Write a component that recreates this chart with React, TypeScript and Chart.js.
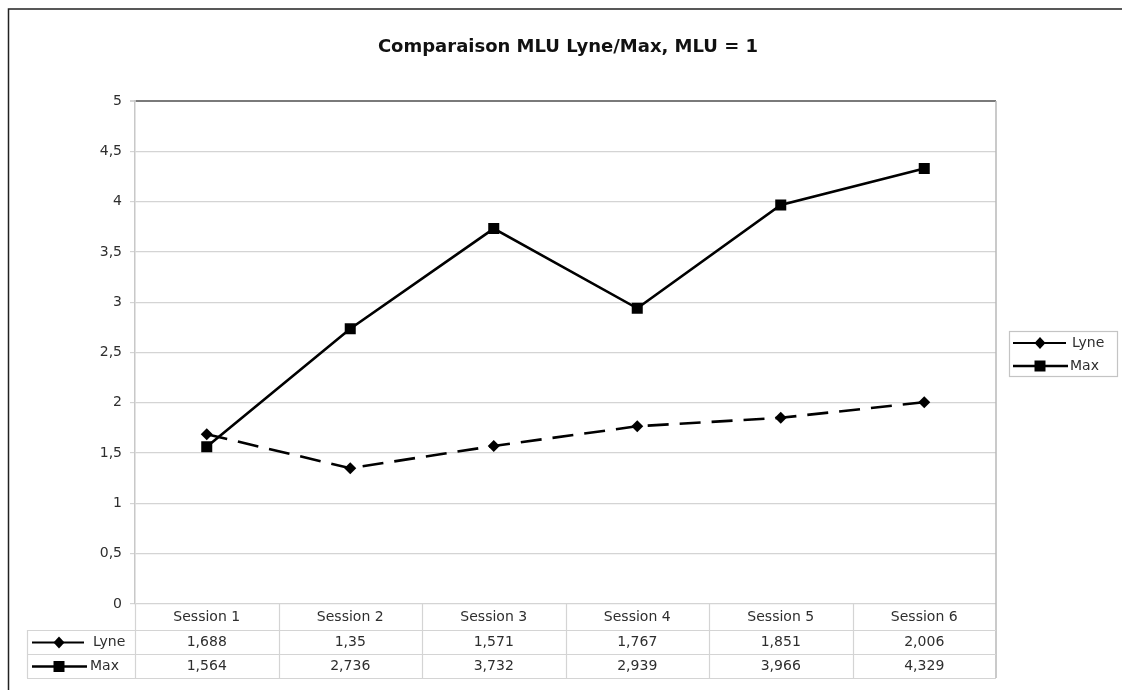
import React, { useEffect, useRef } from "react";
import { Chart, registerables } from "chart.js";

Chart.register(...registerables);

const categories = ["Session 1", "Session 2", "Session 3", "Session 4", "Session 5", "Session 6"];
const lyneValues = [1.688, 1.35, 1.571, 1.767, 1.851, 2.006];
const maxValues = [1.564, 2.736, 3.732, 2.939, 3.966, 4.329];
const seriesNames = ["Lyne", "Max"];
const titleText = "Comparaison MLU Lyne/Max, MLU = 1";

const FONT = "'DejaVu Sans', Verdana, sans-serif";
const TEXT = "#2e2e2e";
const GRID = "#d4d4d4";

const fmt = (v: number) => String(v).replace(".", ",");

function drawMarker(ctx: CanvasRenderingContext2D, kind: string, x: number, y: number) {
  ctx.fillStyle = "#000";
  ctx.beginPath();
  if (kind === "diamond") {
    ctx.moveTo(x - 5.5, y);
    ctx.lineTo(x, y - 6);
    ctx.lineTo(x + 5.5, y);
    ctx.lineTo(x, y + 6);
    ctx.closePath();
  } else {
    ctx.rect(x - 5.5, y - 5.5, 11, 11);
  }
  ctx.fill();
}

const decorPlugin = {
  id: "decor",
  afterDraw(chart: any) {
    const ctx: CanvasRenderingContext2D = chart.ctx;
    const area = chart.chartArea;
    const xs = chart.scales.x;
    ctx.save();

    // outer frame
    ctx.strokeStyle = "#222";
    ctx.lineWidth = 1.5;
    ctx.beginPath();
    ctx.moveTo(8.5, 690);
    ctx.lineTo(8.5, 9);
    ctx.lineTo(1122, 9);
    ctx.stroke();

    // title
    ctx.fillStyle = "#111";
    ctx.font = `bold 18px ${FONT}`;
    ctx.textAlign = "center";
    ctx.textBaseline = "middle";
    ctx.fillText(titleText, 568, 47);

    // plot right border
    ctx.strokeStyle = "#b8b8b8";
    ctx.lineWidth = 1.5;
    ctx.beginPath();
    ctx.moveTo(area.right, area.top);
    ctx.lineTo(area.right, 678);
    ctx.stroke();

    // data table
    const rowTops = [area.bottom, 630, 654, 678];
    const tableLeft = 27;
    ctx.strokeStyle = GRID;
    ctx.lineWidth = 1.2;
    ctx.beginPath();
    for (let r = 1; r < rowTops.length; r++) {
      ctx.moveTo(tableLeft, rowTops[r] + 0.5);
      ctx.lineTo(area.right, rowTops[r] + 0.5);
    }
    ctx.moveTo(tableLeft + 0.5, rowTops[1]);
    ctx.lineTo(tableLeft + 0.5, rowTops[3]);
    const half = (xs.getPixelForValue(1) - xs.getPixelForValue(0)) / 2;
    for (let i = 0; i < categories.length; i++) {
      const bx = Math.round(xs.getPixelForValue(i) - half) + 0.5;
      ctx.moveTo(bx, area.bottom);
      ctx.lineTo(bx, rowTops[3]);
    }
    ctx.stroke();

    const rows = [lyneValues, maxValues];
    ctx.font = `14px ${FONT}`;
    ctx.fillStyle = TEXT;
    ctx.textBaseline = "middle";
    rows.forEach((vals, r) => {
      const cy = (rowTops[r + 1] + rowTops[r + 2]) / 2 + 0.5;
      ctx.textAlign = "center";
      ctx.fillStyle = TEXT;
      vals.forEach((v, i) => {
        ctx.fillText(fmt(v), xs.getPixelForValue(i), cy);
      });
      // key
      ctx.strokeStyle = "#000";
      ctx.lineWidth = r === 0 ? 1.8 : 2.6;
      ctx.setLineDash([]);
      ctx.beginPath();
      ctx.moveTo(32, cy);
      ctx.lineTo(r === 0 ? 84 : 87, cy);
      ctx.stroke();
      drawMarker(ctx, r === 0 ? "diamond" : "square", 59, cy);
      ctx.fillStyle = TEXT;
      ctx.textAlign = "left";
      ctx.fillText(seriesNames[r], r === 0 ? 93 : 90, cy);
    });

    // legend
    ctx.strokeStyle = "#c4c4c4";
    ctx.lineWidth = 1.2;
    ctx.strokeRect(1009.5, 331.5, 108, 45);
    const ly = [343, 366];
    seriesNames.forEach((name, r) => {
      ctx.strokeStyle = "#000";
      ctx.lineWidth = r === 0 ? 1.8 : 2.6;
      ctx.beginPath();
      ctx.moveTo(1013, ly[r]);
      ctx.lineTo(r === 0 ? 1066 : 1068, ly[r]);
      ctx.stroke();
      drawMarker(ctx, r === 0 ? "diamond" : "square", 1040, ly[r]);
      ctx.fillStyle = TEXT;
      ctx.textAlign = "left";
      ctx.font = `14px ${FONT}`;
      ctx.fillText(name, r === 0 ? 1072 : 1070, ly[r] + 0.5);
    });

    ctx.restore();
  },
};

export default function App() {
  const ref = useRef<HTMLCanvasElement | null>(null);

  useEffect(() => {
    if (!ref.current) return;
    const chart = new Chart(ref.current, {
      type: "line",
      data: {
        labels: categories,
        datasets: [
          {
            label: seriesNames[0],
            data: lyneValues,
            borderColor: "#000",
            backgroundColor: "#000",
            borderWidth: 2.6,
            borderDash: [21, 11],
            pointStyle: "rectRot",
            pointRadius: 6,
            pointBorderWidth: 0,
            tension: 0,
          },
          {
            label: seriesNames[1],
            data: maxValues,
            borderColor: "#000",
            backgroundColor: "#000",
            borderWidth: 2.6,
            pointStyle: "rect",
            pointRadius: 7.8,
            pointBorderWidth: 0,
            tension: 0,
          },
        ],
      },
      plugins: [decorPlugin],
      options: {
        responsive: false,
        animation: false,
        devicePixelRatio: 1,
        layout: { padding: { top: 101, right: 126, left: 0, bottom: 0 } },
        plugins: {
          legend: { display: false },
          title: { display: false },
          tooltip: { enabled: false },
        },
        scales: {
          x: {
            offset: true,
            grid: { display: false, drawTicks: false },
            border: { display: false },
            ticks: {
              padding: 5,
              color: TEXT,
              font: { family: FONT, size: 14 },
              maxRotation: 0,
            },
            afterFit: (s: any) => {
              s.height = 86;
            },
          },
          y: {
            min: 0,
            max: 5,
            grid: {
              color: (c: any) => (c.tick && c.tick.value === 5 ? "#7a7a7a" : GRID),
              lineWidth: (c: any) => (c.tick && c.tick.value === 5 ? 2 : 1.2),
              tickLength: 5,
              tickColor: GRID,
            },
            border: { display: true, color: "#c8c8c8", width: 1.5 },
            ticks: {
              stepSize: 0.5,
              padding: 8,
              color: TEXT,
              font: { family: FONT, size: 14 },
              callback: (v: any) => fmt(Number(v)),
            },
            afterFit: (s: any) => {
              s.width = 135;
            },
          },
        },
      },
    });
    return () => chart.destroy();
  }, []);

  return (
    <div style={{ position: "absolute", left: 0, top: 0, width: 1122, height: 690, background: "#fff" }}>
      <canvas ref={ref} width={1122} height={690} style={{ display: "block", width: 1122, height: 690 }} />
    </div>
  );
}
